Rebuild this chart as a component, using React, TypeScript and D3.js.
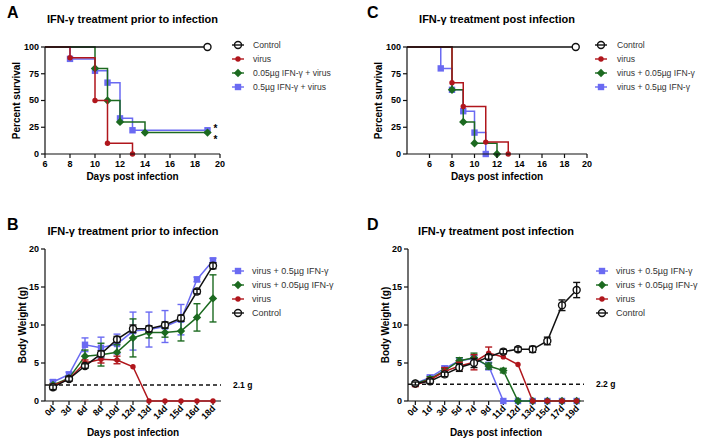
import React from 'react'
import * as d3 from 'd3'

const FONT = '"Liberation Sans", Arial, sans-serif'
const RED = '#b0161c'
const GREEN = '#1c6a20'
const BLUE = '#6a6af2'
const BLACK = '#111111'

// A: survival, treatment prior to infection
const aControlDays = [0, 19]
const aControlPct = [100, 100]
const aVirusDays = [0, 8, 10, 11, 13]
const aVirusPct = [100, 90, 50, 10, 0]
const aLowDays = [0, 10, 11, 12, 14, 19]
const aLowPct = [100, 80, 50, 30, 20, 20]
const aHighDays = [0, 8, 10, 11, 12, 13, 19]
const aHighPct = [100, 88.9, 77.8, 66.7, 33.3, 22.2, 22.2]

// C: survival, treatment post infection
const cControlDays = [0, 19]
const cControlPct = [100, 100]
const cVirusDays = [0, 8, 9, 11, 13]
const cVirusPct = [100, 66.7, 44.4, 11.1, 0]
const cLowDays = [0, 8, 9, 10, 12]
const cLowPct = [100, 60, 30, 10, 0]
const cHighDays = [0, 7, 8, 9, 10, 11]
const cHighPct = [100, 80, 60, 40, 20, 0]

const survivalTicks = [6, 8, 10, 12, 14, 16, 18, 20]
const percentTicks = [0, 25, 50, 75, 100]

// B: body weight, treatment prior to infection
const bDays = ['0d', '3d', '6d', '8d', '10d', '12d', '13d', '14d', '15d', '16d', '18d']
const bHigh = [2.5, 3.5, 7.4, 7.0, 7.5, 9.2, 9.4, 9.8, 10.7, 16.0, 18.5]
const bHighSd = [0.3, 0.3, 0.9, 1.4, 1.3, 2.5, 2.3, 2.1, 2.0, 0.3, 0.3]
const bLow = [2.1, 3.0, 5.9, 6.1, 6.4, 8.3, 9.0, 9.0, 9.2, 11.0, 13.5]
const bLowSd = [0.2, 0.3, 0.8, 1.5, 1.0, 2.5, 0.7, 0.6, 1.3, 1.8, 3.1]
const bVirus = [2.0, 2.9, 5.0, 5.5, 5.4, 4.5, 0, 0, 0, 0, 0]
const bVirusSd = [0.2, 0.2, 0.4, 0.5, 0.5, 0, 0, 0, 0, 0, 0]
const bControl = [1.8, 2.9, 4.6, 6.2, 8.1, 9.5, 9.5, 10.0, 10.9, 14.4, 17.8]
const bControlSd = [0.3, 0.3, 0.3, 0.4, 0.4, 0.5, 0.4, 0.4, 0.4, 0.3, 0.4]

// D: body weight, treatment post infection
const dDays = ['0d', '1d', '3d', '5d', '7d', '9d', '11d', '12d', '13d', '15d', '17d', '19d']
const dHigh = [2.3, 3.1, 4.3, 5.3, 5.6, 4.6, 0, 0, 0, 0, 0, 0]
const dHighSd = [0.2, 0.3, 0.3, 0.4, 0.4, 0.5, 0, 0, 0, 0, 0, 0]
const dLow = [2.3, 2.9, 4.0, 5.3, 5.7, 4.6, 4.0, 0, 0, 0, 0, 0]
const dLowSd = [0.2, 0.3, 0.3, 0.4, 0.6, 0.4, 0.3, 0, 0, 0, 0, 0]
const dVirus = [2.1, 2.8, 3.9, 4.6, 5.1, 6.3, 5.8, 4.8, 0, 0, 0, 0]
const dVirusSd = [0.2, 0.2, 0.5, 0.5, 1.0, 0.8, 0, 0, 0, 0, 0, 0]
const dControl = [2.3, 2.6, 3.5, 4.4, 5.0, 5.8, 6.5, 6.8, 6.8, 7.9, 12.6, 14.6]
const dControlSd = [0.2, 0.3, 0.3, 0.5, 0.6, 0.3, 0.3, 0.3, 0.4, 0.5, 0.7, 1.0]

const weightTicks = [0, 5, 10, 15, 20]

function Marker({ shape, x, y, color, hollow }: any) {
  if (shape === 'square') return <rect x={x - 3.2} y={y - 3.2} width={6.4} height={6.4} fill={color} />
  if (shape === 'diamond')
    return <path d={`M${x},${y - 4.2}L${x + 4.2},${y}L${x},${y + 4.2}L${x - 4.2},${y}Z`} fill={color} />
  if (shape === 'dot') return <circle cx={x} cy={y} r={2.7} fill={color} />
  return <circle cx={x} cy={y} r={3.5} fill={hollow ? 'none' : 'white'} stroke={color} strokeWidth={1.4} />
}

function Legend({ items, x, tx, ys, size = 8.6 }: any) {
  return (
    <g>
      {items.map((s: any, i: number) => (
        <g key={s.name}>
          <line x1={x - 6} x2={x + 6} y1={ys[i]} y2={ys[i]} stroke={s.color} strokeWidth={1.4} />
          <Marker shape={s.shape} x={x} y={ys[i]} color={s.color} hollow />
          <text x={tx} y={ys[i]} dy="0.35em" fontSize={size} fill="#333" fontFamily={FONT}>
            {s.name}
          </text>
        </g>
      ))}
    </g>
  )
}

function SurvivalPanel({ letter, letterX, title, left, right, top, bottom, xMin, series, legendX, legendTx, legendYs, stars }: any) {
  const x = d3.scaleLinear().domain([xMin, 20]).range([left, right]).clamp(true)
  const y = d3.scaleLinear().domain([0, 100]).range([bottom, top])
  const line = d3
    .line<[number, number]>()
    .x((d) => x(d[0]))
    .y((d) => y(d[1]))
    .curve(d3.curveStepAfter)
  const mid = (left + right) / 2

  return (
    <g fontFamily={FONT}>
      <text x={letterX} y={18} fontSize={16} fontWeight="bold">{letter}</text>
      <text x={mid} y={23} fontSize={11} fontWeight="bold" textAnchor="middle">{title}</text>

      {[...series].reverse().map((s: any) => {
        const pts: [number, number][] = s.days.map((d: number, i: number) => [d, s.values[i]])
        return (
          <g key={s.name}>
            <path d={line(pts) || ''} fill="none" stroke={s.color} strokeWidth={1.5} />
            {pts.slice(1).map((p, i) => (
              <Marker key={i} shape={s.shape} x={x(p[0])} y={y(p[1])} color={s.color} />
            ))}
          </g>
        )
      })}

      {/* significance marks, nudged apart so they don't collide */}
      {stars.map((s: any, i: number) => (
        <text key={i} x={x(19) + 6} y={y(s.v) + 5 + s.dy} fontSize={10} fontWeight="bold">*</text>
      ))}

      {/* axes */}
      <line x1={left} x2={left} y1={top} y2={bottom} stroke={BLACK} strokeWidth={1.2} />
      <line x1={left} x2={right} y1={bottom} y2={bottom} stroke={BLACK} strokeWidth={1.2} />
      {percentTicks.map((t) => (
        <g key={t}>
          <line x1={left - 4} x2={left} y1={y(t)} y2={y(t)} stroke={BLACK} strokeWidth={1.2} />
          <text x={left - 6} y={y(t)} dy="0.33em" textAnchor="end" fontSize={9} fontWeight="bold">{t}</text>
        </g>
      ))}
      {survivalTicks.map((t) => (
        <g key={t}>
          <line x1={x(t)} x2={x(t)} y1={bottom} y2={bottom + 4} stroke={BLACK} strokeWidth={1.2} />
          <text x={x(t)} y={bottom + 13} textAnchor="middle" fontSize={9} fontWeight="bold">{t}</text>
        </g>
      ))}
      <text transform={`translate(${left - 25},${(top + bottom) / 2}) rotate(-90)`} textAnchor="middle" fontSize={10} fontWeight="bold">
        Percent survival
      </text>
      <text x={mid} y={180} textAnchor="middle" fontSize={10} fontWeight="bold">Days post infection</text>

      <Legend items={series} x={legendX} tx={legendTx} ys={legendYs} />
    </g>
  )
}

function WeightPanel({ letter, letterX, title, left, right, top, bottom, days, series, cutoff, cutoffLabel, legendX, legendTx, legendYs }: any) {
  const x = d3.scalePoint<string>().domain(days).range([left, right]).padding(0.5)
  const y = d3.scaleLinear().domain([0, 20]).range([bottom, top])
  const line = d3
    .line<number>()
    .x((_, i) => x(days[i]) as number)
    .y((d) => y(d))
  const mid = (left + right) / 2

  return (
    <g fontFamily={FONT}>
      <text x={letterX} y={230} fontSize={16} fontWeight="bold">{letter}</text>
      <text x={mid} y={235} fontSize={11} fontWeight="bold" textAnchor="middle">{title}</text>

      <line x1={left} x2={right} y1={y(cutoff)} y2={y(cutoff)} stroke={BLACK} strokeWidth={1.5} strokeDasharray="4,3" />
      <text x={right + 12} y={y(cutoff)} dy="0.35em" fontSize={8.5} fontWeight="bold">{cutoffLabel}</text>

      {/* axes */}
      <line x1={left} x2={left} y1={top} y2={bottom} stroke={BLACK} strokeWidth={1.2} />
      <line x1={left} x2={right} y1={bottom} y2={bottom} stroke={BLACK} strokeWidth={1.2} />
      {weightTicks.map((t) => (
        <g key={t}>
          <line x1={left - 4} x2={left} y1={y(t)} y2={y(t)} stroke={BLACK} strokeWidth={1.2} />
          <text x={left - 6} y={y(t)} dy="0.33em" textAnchor="end" fontSize={9} fontWeight="bold">{t}</text>
        </g>
      ))}
      {days.map((d: string) => (
        <g key={d}>
          <line x1={x(d)} x2={x(d)} y1={bottom} y2={bottom + 4} stroke={BLACK} strokeWidth={1.2} />
          <text transform={`translate(${(x(d) as number) + 3},${bottom + 8}) rotate(-45)`} textAnchor="end" fontSize={9} fontWeight="bold">
            {d}
          </text>
        </g>
      ))}

      {series.map((s: any) => (
        <g key={s.name}>
          <path d={line(s.values) || ''} fill="none" stroke={s.color} strokeWidth={1.5} />
          {s.values.map((v: number, i: number) => (
            <Marker key={i} shape={s.shape} x={x(days[i])} y={y(v)} color={s.color} />
          ))}
          {s.values.map((v: number, i: number) => {
            const sd = s.sd[i]
            if (!sd) return null
            const px = x(days[i]) as number
            return (
              <g key={'e' + i} stroke={s.color} strokeWidth={1.4}>
                <line x1={px} x2={px} y1={y(v - sd)} y2={y(v + sd)} />
                <line x1={px - 3.5} x2={px + 3.5} y1={y(v + sd)} y2={y(v + sd)} />
                <line x1={px - 3.5} x2={px + 3.5} y1={y(v - sd)} y2={y(v - sd)} />
              </g>
            )
          })}
        </g>
      ))}

      <text transform={`translate(${left - 19},${(top + bottom) / 2}) rotate(-90)`} textAnchor="middle" fontSize={10} fontWeight="bold">
        Body Weight (g)
      </text>
      <text x={mid} y={436} textAnchor="middle" fontSize={10} fontWeight="bold">Days post infection</text>

      <Legend items={series} x={legendX} tx={legendTx} ys={legendYs} size={9} />
    </g>
  )
}

export default function App() {
  const aSeries = [
    { name: 'Control', color: BLACK, shape: 'open', days: aControlDays, values: aControlPct },
    { name: 'virus', color: RED, shape: 'dot', days: aVirusDays, values: aVirusPct },
    { name: '0.05µg IFN-γ + virus', color: GREEN, shape: 'diamond', days: aLowDays, values: aLowPct },
    { name: '0.5µg IFN-γ + virus', color: BLUE, shape: 'square', days: aHighDays, values: aHighPct },
  ]
  const cSeries = [
    { name: 'Control', color: BLACK, shape: 'open', days: cControlDays, values: cControlPct },
    { name: 'virus', color: RED, shape: 'dot', days: cVirusDays, values: cVirusPct },
    { name: 'virus + 0.05µg IFN-γ', color: GREEN, shape: 'diamond', days: cLowDays, values: cLowPct },
    { name: 'virus + 0.5µg IFN-γ', color: BLUE, shape: 'square', days: cHighDays, values: cHighPct },
  ]
  const bSeries = [
    { name: 'virus + 0.5µg IFN-γ', color: BLUE, shape: 'square', values: bHigh, sd: bHighSd },
    { name: 'virus + 0.05µg IFN-γ', color: GREEN, shape: 'diamond', values: bLow, sd: bLowSd },
    { name: 'virus', color: RED, shape: 'dot', values: bVirus, sd: bVirusSd },
    { name: 'Control', color: BLACK, shape: 'open', values: bControl, sd: bControlSd },
  ]
  const dSeries = [
    { name: 'virus + 0.5µg IFN-γ', color: BLUE, shape: 'square', values: dHigh, sd: dHighSd },
    { name: 'virus + 0.05µg IFN-γ', color: GREEN, shape: 'diamond', values: dLow, sd: dLowSd },
    { name: 'virus', color: RED, shape: 'dot', values: dVirus, sd: dVirusSd },
    { name: 'Control', color: BLACK, shape: 'open', values: dControl, sd: dControlSd },
  ]

  return (
    <svg width={709} height={445} style={{ position: 'absolute', left: 0, top: 0, background: 'white' }}>
      <SurvivalPanel
        letter="A" letterX={7} title="IFN-γ treatment prior to infection"
        left={45} right={220} top={47} bottom={154} xMin={6}
        series={aSeries} legendX={238} legendTx={253} legendYs={[45, 59, 73, 87]}
        stars={[
          { v: aHighPct[aHighPct.length - 1], dy: -3 },
          { v: aLowPct[aLowPct.length - 1], dy: 5 },
        ]}
      />
      <SurvivalPanel
        letter="C" letterX={367} title="IFN-γ treatment post infection"
        left={407} right={587} top={47} bottom={154} xMin={4}
        series={cSeries} legendX={601} legendTx={617} legendYs={[45, 59, 73, 87]}
        stars={[]}
      />
      <WeightPanel
        letter="B" letterX={7} title="IFN-γ treatment prior to infection"
        left={45} right={221} top={249} bottom={401} days={bDays} series={bSeries}
        cutoff={2.1} cutoffLabel="2.1 g" legendX={238} legendTx={252} legendYs={[271, 285, 299, 313]}
      />
      <WeightPanel
        letter="D" letterX={367} title="IFN-γ treatment post infection"
        left={408} right={584} top={249} bottom={401} days={dDays} series={dSeries}
        cutoff={2.2} cutoffLabel="2.2 g" legendX={602} legendTx={616} legendYs={[271, 285, 299, 313]}
      />
    </svg>
  )
}
